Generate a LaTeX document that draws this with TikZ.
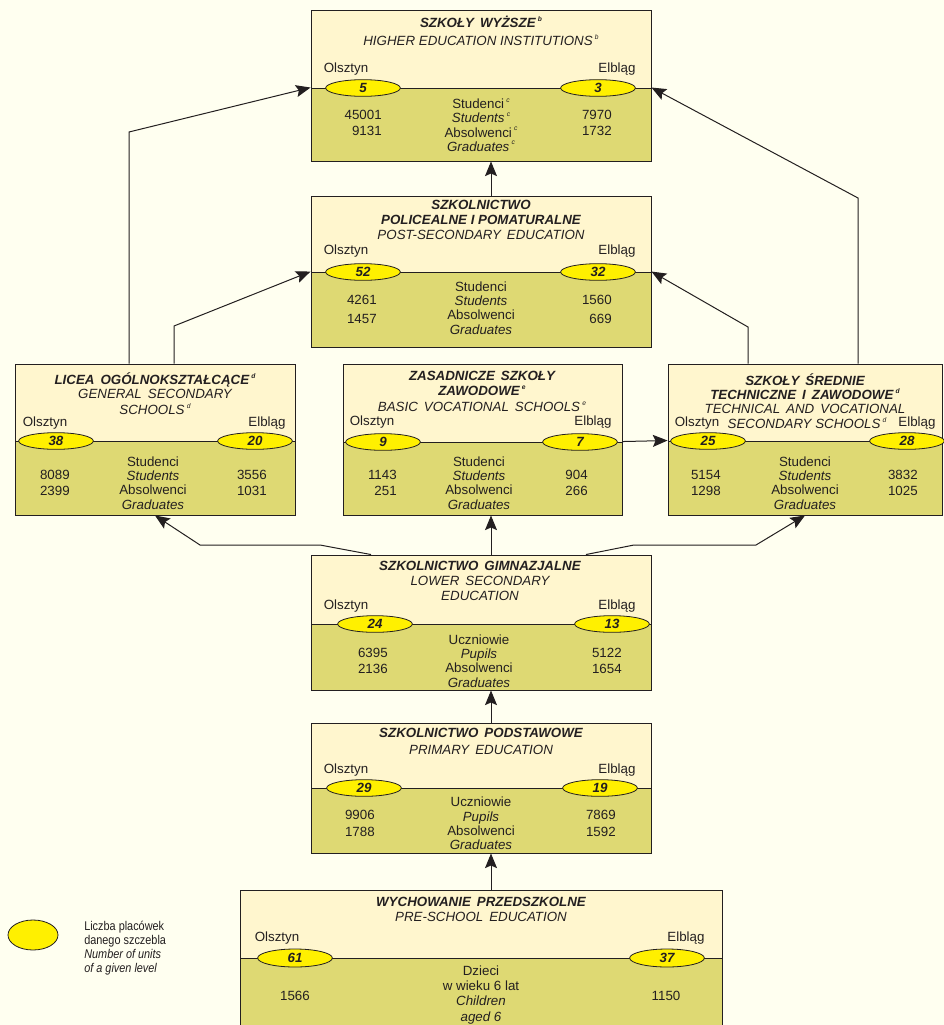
\documentclass[tikz,border=0pt]{standalone}
\usepackage{fontspec}
\setmainfont{Liberation Sans}
\usetikzlibrary{arrows.meta,shapes.geometric,fit,calc}
\definecolor{bg}{RGB}{255,255,240}
\definecolor{up}{RGB}{255,246,206}
\definecolor{low}{RGB}{222,217,115}
\definecolor{ink}{RGB}{35,31,32}
\definecolor{oval}{RGB}{255,240,0}
\newcommand\nt[1]{\,\raisebox{0.9ex}{\fontsize{5}{5}\selectfont\itshape #1}}
\newcommand\ws{\hspace{0.45em}}
\begin{document}
\begin{tikzpicture}[x=0.75pt,y=-0.75pt,
  font=\fontsize{10}{11}\selectfont, text=ink,
  upbox/.style={fill=up,draw=ink,line width=0.7pt,inner sep=0pt},
  lowbox/.style={fill=low,draw=ink,line width=0.7pt,inner sep=0pt},
  unit/.style={ellipse,draw=ink,fill=oval,line width=0.6pt,minimum width=56pt,minimum height=12.5pt,inner sep=0pt,font=\fontsize{10}{11}\selectfont\bfseries\itshape},
  ttl/.style={font=\fontsize{10}{11}\selectfont\bfseries\itshape,inner sep=0pt},
  sub/.style={font=\fontsize{10}{11}\selectfont\itshape,inner sep=0pt},
  lbl/.style={inner sep=0pt},
  mid/.style={align=center,inner sep=0pt,font=\fontsize{10}{10.7}\selectfont},
  num/.style={anchor=east,inner sep=0pt},
  conn/.style={draw=ink,line width=0.75pt,-{Stealth[length=11pt,width=9pt,inset=2pt]}}
]
\clip (0,0) rectangle (944,1025);
\fill[bg] (0,0) rectangle (944,1025);

% ---- Szkoly wyzsze
\node[upbox,fit={(311,10)(651,88)}] (wyzU) {};
\node[lowbox,fit={(311,88)(651,161)}] (wyzD) {};
\node[ttl] at (481,22) {SZKOŁY\ws WYŻSZE\nt{b}};
\node[sub] at (481,40) {HIGHER EDUCATION INSTITUTIONS\nt{b}};
\node[lbl] at (346,69) {Olsztyn};
\node[lbl] at (617,69) {Elbląg};
\node[unit] (wyzO) at (363,88) {5};
\node[unit] (wyzE) at (598,88) {3};
\node[mid] at (481,125) {Studenci\nt{c}\\\textit{Students}\nt{c}\\Absolwenci\nt{c}\\\textit{Graduates}\nt{c}};
\node[num] at (382,115) {45001};
\node[num] at (382,131) {9131};
\node[num] at (612,115) {7970};
\node[num] at (612,131) {1732};

% ---- Policealne
\node[upbox,fit={(311,196)(651,272)}] (polU) {};
\node[lowbox,fit={(311,272)(651,347)}] (polD) {};
\node[ttl] at (481,205) {SZKOLNICTWO};
\node[ttl] at (481,220) {POLICEALNE I POMATURALNE};
\node[sub] at (481,235) {POST-SECONDARY\ws EDUCATION};
\node[lbl] at (346,251) {Olsztyn};
\node[lbl] at (617,251) {Elbląg};
\node[unit] (polO) at (363,272) {52};
\node[unit] (polE) at (598,272) {32};
\node[mid] at (481,308) {Studenci\\\textit{Students}\\Absolwenci\\\textit{Graduates}};
\node[num] at (377,300) {4261};
\node[num] at (377,319) {1457};
\node[num] at (612,300) {1560};
\node[num] at (612,319) {669};

% ---- Licea
\node[upbox,fit={(15,364)(295,441)}] (licU) {};
\node[lowbox,fit={(15,441)(295,515)}] (licD) {};
\node[ttl] at (155,380) {LICEA\ws OGÓLNOKSZTAŁCĄCE\nt{d}};
\node[sub] at (155,394) {GENERAL\ws SECONDARY};
\node[sub] at (155,409) {SCHOOLS\nt{d}};
\node[lbl] at (45,423) {Olsztyn};
\node[lbl] at (267,423) {Elbląg};
\node[unit] (licO) at (56,441) {38};
\node[unit] (licE) at (255,441) {20};
\node[mid] at (153,483) {Studenci\\\textit{Students}\\Absolwenci\\\textit{Graduates}};
\node[num] at (70,475) {8089};
\node[num] at (70,491) {2399};
\node[num] at (267,475) {3556};
\node[num] at (267,491) {1031};

% ---- Zasadnicze
\node[upbox,fit={(343,364)(622,442)}] (zasU) {};
\node[lowbox,fit={(343,442)(622,515)}] (zasD) {};
\node[ttl] at (482,376) {ZASADNICZE\ws SZKOŁY};
\node[ttl] at (482,391) {ZAWODOWE\nt{e}};
\node[sub] at (482,407) {BASIC\ws VOCATIONAL\ws SCHOOLS\nt{e}};
\node[lbl] at (372,422) {Olsztyn};
\node[lbl] at (593,422) {Elbląg};
\node[unit] (zasO) at (383,442) {9};
\node[unit] (zasE) at (580,442) {7};
\node[mid] at (479,483) {Studenci\\\textit{Students}\\Absolwenci\\\textit{Graduates}};
\node[num] at (397,475) {1143};
\node[num] at (397,491) {251};
\node[num] at (588,475) {904};
\node[num] at (588,491) {266};

% ---- Techniczne
\node[upbox,fit={(668,364)(942,441)}] (tecU) {};
\node[lowbox,fit={(668,441)(942,515)}] (tecD) {};
\node[ttl] at (805,380) {SZKOŁY\ws ŚREDNIE};
\node[ttl] at (805,394) {TECHNICZNE\ws I\ws ZAWODOWE\nt{d}};
\node[sub] at (805,409) {TECHNICAL\ws AND\ws VOCATIONAL};
\node[sub] at (807,423) {SECONDARY SCHOOLS\nt{d}};
\node[lbl] at (697,423) {Olsztyn};
\node[lbl] at (917,423) {Elbląg};
\node[unit] (tecO) at (708,441) {25};
\node[unit] (tecE) at (907,441) {28};
\node[mid] at (805,483) {Studenci\\\textit{Students}\\Absolwenci\\\textit{Graduates}};
\node[num] at (721,475) {5154};
\node[num] at (721,491) {1298};
\node[num] at (918,475) {3832};
\node[num] at (918,491) {1025};

% ---- Gimnazjalne
\node[upbox,fit={(311,555)(651,624)}] (gimU) {};
\node[lowbox,fit={(311,624)(651,690)}] (gimD) {};
\node[ttl] at (480,566) {SZKOLNICTWO\ws GIMNAZJALNE};
\node[sub] at (480,581) {LOWER\ws SECONDARY};
\node[sub] at (480,596) {EDUCATION};
\node[lbl] at (346,606) {Olsztyn};
\node[lbl] at (617,606) {Elbląg};
\node[unit] (gimO) at (375,624) {24};
\node[unit] (gimE) at (612,624) {13};
\node[mid] at (479,661) {Uczniowie\\\textit{Pupils}\\Absolwenci\\\textit{Graduates}};
\node[num] at (388,653) {6395};
\node[num] at (388,669) {2136};
\node[num] at (622,653) {5122};
\node[num] at (622,669) {1654};

% ---- Podstawowe
\node[upbox,fit={(311,723)(651,788)}] (podU) {};
\node[lowbox,fit={(311,788)(651,853)}] (podD) {};
\node[ttl] at (481,733) {SZKOLNICTWO\ws PODSTAWOWE};
\node[sub] at (481,750) {PRIMARY\ws EDUCATION};
\node[lbl] at (346,770) {Olsztyn};
\node[lbl] at (617,770) {Elbląg};
\node[unit] (podO) at (364,788) {29};
\node[unit] (podE) at (600,788) {19};
\node[mid] at (481,823.5) {Uczniowie\\\textit{Pupils}\\Absolwenci\\\textit{Graduates}};
\node[num] at (375,815) {9906};
\node[num] at (375,832) {1788};
\node[num] at (616,815) {7869};
\node[num] at (616,832) {1592};

% ---- Przedszkolne
\node[upbox,fit={(240,890)(722,958)}] (przU) {};
\node[lowbox,fit={(240,958)(722,1032)}] (przD) {};
\node[ttl] at (481,902) {WYCHOWANIE\ws PRZEDSZKOLNE};
\node[sub] at (481,917) {PRE-SCHOOL\ws EDUCATION};
\node[lbl] at (277,938) {Olsztyn};
\node[lbl] at (686,938) {Elbląg};
\node[unit,minimum height=13.5pt] (przO) at (295,958) {61};
\node[unit,minimum height=13.5pt] (przE) at (667,958) {37};
\node[mid,font=\fontsize{10}{11.3}\selectfont] at (481,995) {Dzieci\\w wieku 6 lat\\\textit{Children}\\\textit{aged 6}};
\node[lbl] at (295,996) {1566};
\node[lbl] at (666,996) {1150};

% ---- Legend
\node[ellipse,draw=ink,fill=oval,line width=0.6pt,minimum width=37.5pt,minimum height=22.5pt,inner sep=0pt] (leg) at (33,935) {};
\node[anchor=west,inner sep=0pt] (legT) at (84,949) {\scalebox{0.86}[1]{\fontsize{9.5}{10.5}\selectfont\begin{tabular}{@{}l@{}}Liczba placówek\\danego szczebla\\\textit{Number of units}\\\textit{of a given level}\end{tabular}}};

% ---- Connectors
\coordinate (b1) at (129,132);
\coordinate (b2) at (174,326);
\coordinate (b3) at (748,327);
\coordinate (b4) at (858,198);
\coordinate (cx) at (491,0);
\coordinate (s5) at (371,545);
\coordinate (b5) at (320,545);
\coordinate (b6) at (200,545);
\coordinate (s7) at (586,545);
\coordinate (b7) at (634,545);
\coordinate (b8) at (756,545);
\draw[conn] (licU.north -| b1) -- (b1) -- (wyzD.north west);
\draw[conn] (licU.north -| b2) -- (b2) -- (polD.north west);
\draw[conn] (tecU.north -| b3) -- (b3) -- (polD.north east);
\draw[conn] (tecU.north -| b4) -- (b4) -- (wyzD.north east);
\draw[conn] (polU.north -| cx) -- (wyzD.south -| cx);
\draw[conn] (gimU.north -| cx) -- (zasD.south -| cx);
\draw[conn] (podU.north -| cx) -- (gimD.south -| cx);
\draw[conn] (przU.north -| cx) -- (podD.south -| cx);
\draw[conn] (zasD.north east) -- (tecD.north west);
\draw[conn] (gimU.north -| s5) -- (b5) -- (b6) -- (licD.south);
\draw[conn] (gimU.north -| s7) -- (b7) -- (b8) -- (tecD.south);
\end{tikzpicture}
\end{document}
